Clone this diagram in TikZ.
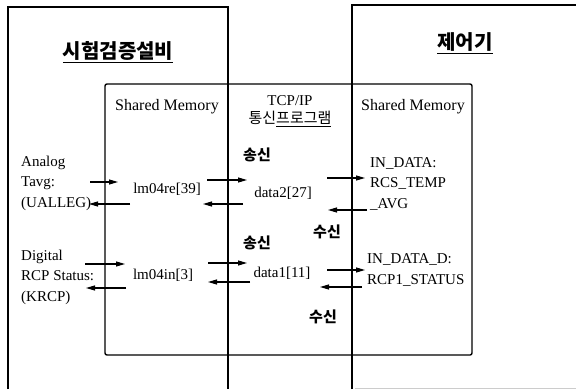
\documentclass[tikz,border=0pt]{standalone}
\usepackage{fontspec}
\setmainfont{Liberation Serif}
\newfontfamily\krfont{Noto Sans CJK KR}
\usetikzlibrary{positioning,arrows.meta}

\begin{document}
\begin{tikzpicture}[x=1pt,y=-1pt,
	txt/.style={font=\fontsize{15}{20.5}\selectfont, inner sep=0pt},
	hangul/.style={font=\krfont\bfseries\fontsize{15}{18}\selectfont, inner sep=0pt},
	title/.style={font=\krfont\bfseries\fontsize{20}{24}\selectfont, inner sep=1pt},
	frame/.style={line width=1.4pt},
	sig/.style={line width=1.1pt, -{Triangle[length=9pt,width=5pt]}}]
	\useasboundingbox (0,0) rectangle (576,389);

	% Cornici dei due sistemi e della memoria condivisa
	\draw[frame] (8,389) -- (8,7) -- (228,7) -- (228,389);
	\draw[frame] (352,389) -- (352,5) -- (576,5);
	\draw[gray!40, line width=0.8pt] (355,388) -- (576,388);
	\draw[frame, rounded corners=2pt] (105,84) rectangle (472,355);

	% Titoli
	\node[title] (sys) at (118,52) {\underline{시험검증설비}};
	\node[title] (ctrl) at (465,43) {\underline{제어기}};

	% Intestazioni delle colonne
	\node[txt, font=\fontsize{16}{20}\selectfont] (shm1) at (167,107) {Shared Memory};
	\node[txt, align=center] (tcp) at (290,111) {TCP/IP\\[-2pt]{\krfont\fontsize{15}{18}\selectfont 통신\underline{프로그램}}};
	\node[txt, font=\fontsize{16}{20}\selectfont] (shm2) at (413,107) {Shared Memory};

	% Segnale analogico
	\node[txt, align=left, anchor=west] (ana) at (21,183) {Analog\\Tavg:\\(UALLEG)};
	\node[txt] (lm04re) at (167,189) {lm04re[39]};
	\node[hangul] (send1) at (257,155) {송신};
	\node[txt] (data2) at (283,193) {data2[27]};
	\node[txt, align=left, anchor=west] (indata) at (370,184) {IN\_DATA:\\RCS\_TEMP\\\_AVG};
	\node[hangul] (recv1) at (327,232) {수신};

	% Segnale digitale
	\node[txt, align=left, anchor=west] (dig) at (21,277) {Digital\\RCP Status:\\(KRCP)};
	\node[txt] (lm04in) at (163,275) {lm04in[3]};
	\node[hangul] (send2) at (257,243) {송신};
	\node[txt] (data1) at (282,273) {data1[11]};
	\node[txt, align=left, anchor=west] (indatad) at (367,270) {IN\_DATA\_D:\\RCP1\_STATUS};
	\node[hangul] (recv2) at (323,317) {수신};

	% Frecce
	\foreach \xa/\xb/\y in {90/118/182, 207/247/180, 327/365/178, 85/125/264, 208/247/263, 327/365/270}
		\draw[sig] (\xa,\y) -- (\xb,\y);
	\foreach \xa/\xb/\y in {130/89/204, 243/203/204, 367/328/210, 126/86/288, 250/208/282, 362/320/287}
		\draw[sig] (\xa,\y) -- (\xb,\y);
\end{tikzpicture}
\end{document}
